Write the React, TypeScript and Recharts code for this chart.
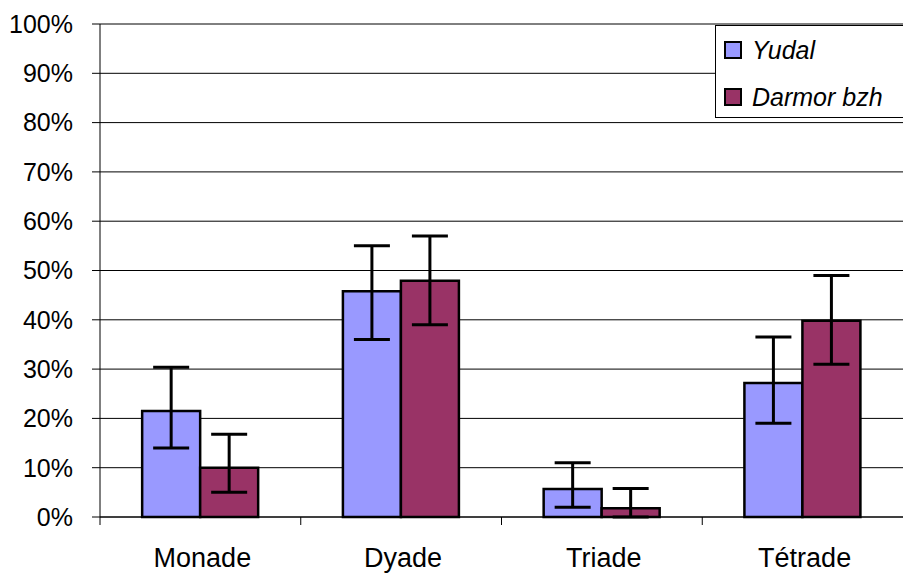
import React from 'react';
import { BarChart, Bar, XAxis, YAxis, CartesianGrid, ErrorBar } from 'recharts';

const categories = ['Monade', 'Dyade', 'Triade', 'Tétrade'];
const yudal = [21.5, 45.8, 5.7, 27.2];
const yudalLow = [14, 36, 2, 19];
const yudalHigh = [30.4, 55, 11, 36.5];
const darmor = [10, 47.9, 1.8, 39.8];
const darmorLow = [5, 39, 0, 31];
const darmorHigh = [16.8, 57, 5.8, 49];
const yTicks = [0, 10, 20, 30, 40, 50, 60, 70, 80, 90, 100];

const data = categories.map((name, i) => ({
  name,
  yudal: yudal[i],
  yudalErr: [yudal[i] - yudalLow[i], yudalHigh[i] - yudal[i]],
  darmor: darmor[i],
  darmorErr: [darmor[i] - darmorLow[i], darmorHigh[i] - darmor[i]],
}));

const FONT = '"Liberation Sans", Arial, sans-serif';
const BAND = 803 / categories.length;

// category label plus a tick mark on the left edge of each category
const CategoryTick = (props: any) => {
  const { x, y, payload } = props;
  const left = x - BAND / 2;
  return (
    <g>
      <line x1={left} y1={y} x2={left} y2={y + 8} stroke="#000" strokeWidth={1} />
      <text x={x + 2} y={y + 50} textAnchor="middle" fontSize={27} fontFamily={FONT} fill="#000">
        {payload.value}
      </text>
    </g>
  );
};

const legendItems = [
  { label: 'Yudal', color: '#9999FF', top: 14 },
  { label: 'Darmor bzh', color: '#993366', top: 61 },
];

const LegendBox = () => (
  <div
    style={{
      position: 'absolute',
      left: 715,
      top: 25,
      width: 192,
      height: 93,
      border: '1px solid #000',
      background: '#fff',
      fontFamily: FONT,
      fontStyle: 'italic',
      fontSize: 25,
      boxSizing: 'border-box',
    }}
  >
    {legendItems.map((it) => (
      <div key={it.label} style={{ position: 'absolute', left: 8, top: it.top, display: 'flex', alignItems: 'center' }}>
        <div style={{ width: 14, height: 14, background: it.color, border: '2px solid #000' }} />
        <span style={{ marginLeft: 10, lineHeight: '20px' }}>{it.label}</span>
      </div>
    ))}
  </div>
);

export default function App() {
  return (
    <div style={{ position: 'fixed', left: 0, top: 0, width: 903, height: 577, overflow: 'hidden', background: '#fff' }}>
      <BarChart
        width={903}
        height={577}
        data={data}
        margin={{ top: 24, right: 0, left: 0, bottom: 0 }}
        barGap={0}
        barCategoryGap="21%"
      >
        <CartesianGrid vertical={false} stroke="#000" strokeWidth={1} />
        <XAxis
          dataKey="name"
          height={60}
          axisLine={{ stroke: '#000', strokeWidth: 1 }}
          tickLine={false}
          tickSize={0}
          tickMargin={0}
          tick={<CategoryTick />}
          interval={0}
        />
        <YAxis
          width={100}
          domain={[0, 100]}
          ticks={yTicks}
          tickFormatter={(v: number) => `${v}%`}
          axisLine={{ stroke: '#000', strokeWidth: 1 }}
          tickLine={{ stroke: '#000' }}
          tickSize={8}
          tickMargin={19}
          tick={{ fontSize: 25, fontFamily: FONT, fill: '#000' }}
        />
        <Bar dataKey="yudal" name="Yudal" fill="#9999FF" stroke="#000" strokeWidth={2.5} isAnimationActive={false}>
          <ErrorBar dataKey="yudalErr" width={18} stroke="#000" strokeWidth={3} direction="y" />
        </Bar>
        <Bar dataKey="darmor" name="Darmor bzh" fill="#993366" stroke="#000" strokeWidth={2.5} isAnimationActive={false}>
          <ErrorBar dataKey="darmorErr" width={18} stroke="#000" strokeWidth={3} direction="y" />
        </Bar>
      </BarChart>
      <LegendBox />
    </div>
  );
}
